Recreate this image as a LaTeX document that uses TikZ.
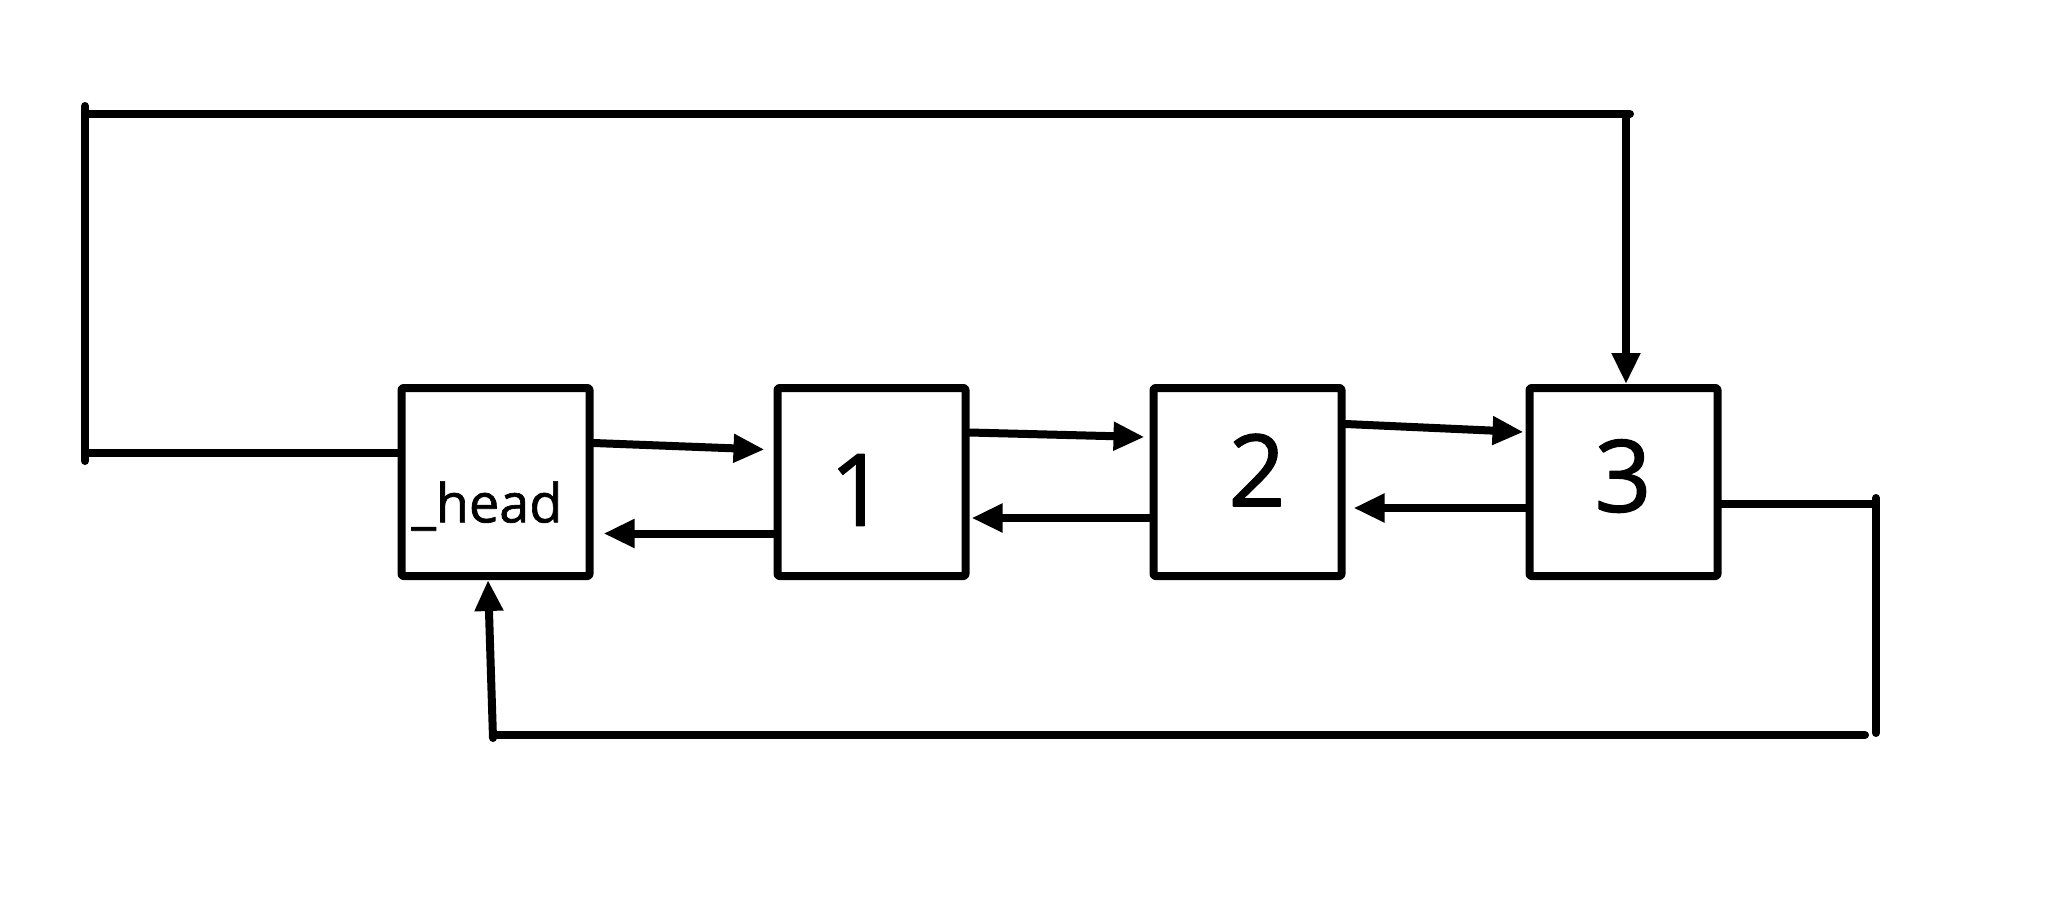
\documentclass[tikz,border=0pt]{standalone}
\usepackage{fontspec}
\setmainfont{Open Sans}
\newfontfamily\boxfont[FakeBold=1.2]{Open Sans}
\usetikzlibrary{positioning,arrows.meta}

\begin{document}
\begin{tikzpicture}[x=1pt,y=-1pt,
    line width=8pt, line cap=round, line join=round,
    cell/.style={draw, rounded corners=2pt, minimum width=188pt, minimum height=188pt, inner sep=0pt},
    digit/.style={inner sep=0pt, font=\boxfont\fontsize{100}{100}\selectfont},
    link/.style={-{Triangle[length=31pt,width=27pt]}},
    node distance=180pt]
  \useasboundingbox (0,0) rectangle (2062,905);

  \node[cell] (head) at (495.5,482) {};
  \node[cell, right=of head] (n1) {};
  \node[cell, right=of n1] (n2) {};
  \node[cell, right=of n2] (n3) {};

  \node[inner sep=0pt, font=\boxfont\fontsize{54}{60}\selectfont] (headlbl) at (487,506) {\_head};
  \node[digit] (d1) at (858,490) {1};
  \node[digit] (d2) at (1257,470) {2};
  \node[digit] (d3) at (1623,476) {3};

  % forward and backward links
  \draw[link] ([yshift=39pt]head.east) -- ([xshift=-9pt,yshift=32.5pt]n1.west);
  \draw[link] ([yshift=-51.5pt]n1.west) -- ([xshift=10pt,yshift=-51.5pt]head.east);
  \draw[link] ([yshift=49.5pt]n1.east) -- ([xshift=-5pt,yshift=45pt]n2.west);
  \draw[link] ([yshift=-36pt]n2.west) -- ([xshift=2pt,yshift=-36pt]n1.east);
  \draw[link] ([yshift=58pt]n2.east) -- ([xshift=-2pt,yshift=50pt]n3.west);
  \draw[link] ([yshift=-26pt]n3.west) -- ([xshift=8pt,yshift=-26pt]n2.east);

  % loop over the top
  \coordinate (tl) at (85,114);
  \coordinate (bl) at (85,453);
  \coordinate (tr) at (1626,114);
  \draw ([yshift=29pt]head.west) -- (bl);
  \draw ([yshift=-8pt]bl) -- ([yshift=8pt]tl);
  \draw (tl) -- ([xshift=4pt]tr);
  \draw[link] (tr) -- (tr |- n3.north);

  % loop under the bottom
  \coordinate (rt) at (1876,504);
  \coordinate (br) at (1876,735);
  \coordinate (bm) at (493,735);
  \draw ([yshift=-22pt]n3.east) -- (rt);
  \draw ([yshift=6pt]rt) -- ([yshift=2pt]br);
  \draw ([xshift=-11pt]br) -- (bm);
  \draw[link] ([yshift=-3pt]bm) -- ([xshift=-7.5pt]head.south);
\end{tikzpicture}
\end{document}
